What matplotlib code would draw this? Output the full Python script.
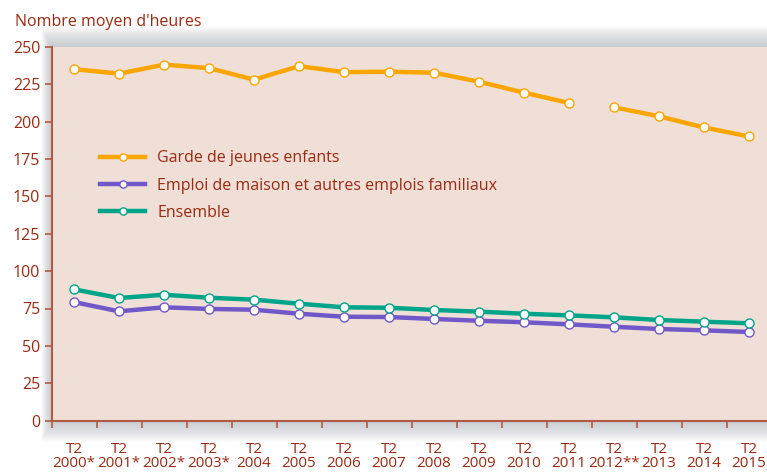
import numpy as np
import matplotlib
matplotlib.use('Agg')
import matplotlib.pyplot as plt
from matplotlib.patches import Rectangle

plt.rcParams['font.family'] = ['Open Sans', 'DejaVu Sans']

# données
years = ['2000*', '2001*', '2002*', '2003*', '2004', '2005', '2006', '2007',
         '2008', '2009', '2010', '2011', '2012**', '2013', '2014', '2015']
garde = [235, 232, 238, 235.7, 228, 237, 233, 233.3,
         232.6, 226.6, 219.3, 212.4, 209.5, 203.5, 196, 190]
emploi = [79.3, 73.1, 75.8, 74.7, 74.2, 71.5, 69.5, 69.3,
          68, 66.8, 65.8, 64.4, 62.8, 61.3, 60.4, 59.3]
ensemble = [87.8, 82, 84.2, 82.2, 80.9, 78.2, 75.8, 75.5,
            74, 72.9, 71.5, 70.4, 69.1, 67.3, 66.2, 65.1]
break_after = 11  # pas de lien entre 2011 et 2012 pour la garde

txt = '#9a2a12'
spine = '#b05a45'
bg = '#f0dfd6'
c_garde = '#fba600'
c_emploi = '#7158c8'
c_ens = '#00a589'

W, H = 767, 472
fig = plt.figure(figsize=(W / 100, H / 100), dpi=100)
fig.patch.set_facecolor('white')

x0, x1 = 51.5, 771.5
y0, y1 = 420.7, 46.7
ax = fig.add_axes([x0 / W, (H - y0) / H, (x1 - x0) / W, (y0 - y1) / H])
ax.set_facecolor(bg)

# ombre autour de la zone de tracé
for k in range(1, 22):
    fig.patches.append(Rectangle(((x0 - k * 0.5) / W, (H - y0 - k) / H),
                                 (x1 - x0 + k) / W, (y0 - y1 + 2 * k) / H,
                                 transform=fig.transFigure, facecolor='#5a6570',
                                 edgecolor='none', alpha=0.015, zorder=-5))

x = np.arange(len(years))
mk = dict(marker='o', markersize=6.5, markerfacecolor='white', markeredgewidth=1.0)

ax.plot(x[:break_after + 1], garde[:break_after + 1], color=c_garde, lw=3.2,
        markeredgecolor=c_garde, label='Garde de jeunes enfants', **mk)
ax.plot(x[break_after + 1:], garde[break_after + 1:], color=c_garde, lw=3.2,
        markeredgecolor=c_garde, **mk)
ax.plot(x, emploi, color=c_emploi, lw=3.2, markeredgecolor=c_emploi,
        label='Emploi de maison et autres emplois familiaux', **mk)
ax.plot(x, ensemble, color=c_ens, lw=3.2, markeredgecolor=c_ens,
        label='Ensemble', **mk)

ax.set_xlim(-0.5, len(years) - 0.5)
ax.set_ylim(0, 250)
ax.set_yticks(np.arange(0, 251, 25))
ax.set_xticks(x)
ax.set_xticklabels(['T2\n' + y for y in years])
ax.set_xticks(np.arange(-0.5, len(years)), minor=True)

for s in ['top', 'right']:
    ax.spines[s].set_visible(False)
for s in ['left', 'bottom']:
    ax.spines[s].set_color(spine)
    ax.spines[s].set_linewidth(1.5)

ax.tick_params(axis='y', colors=spine, labelcolor=txt, labelsize=11.5,
               length=5, width=1.2, pad=3)
ax.tick_params(axis='x', which='major', length=0, labelcolor=txt,
               labelsize=11, pad=15)
ax.tick_params(axis='x', which='minor', length=5, width=1.2, colors=spine)
for lab in ax.get_xticklabels():
    lab.set_linespacing(0.92)

fig.text(15 / W, 1 - 22 / H, "Nombre moyen d'heures", color=txt, fontsize=11.5,
         ha='left', va='center')

leg = ax.legend(loc='upper left', bbox_to_anchor=(86 / W, 1 - 136 / H),
                bbox_transform=fig.transFigure, frameon=False, fontsize=11.5,
                handlelength=2.8, handletextpad=0.75, labelspacing=0.7,
                numpoints=1, markerscale=0.8)
for t in leg.get_texts():
    t.set_color(txt)

fig.savefig('out.png', dpi=100, facecolor=fig.get_facecolor())
